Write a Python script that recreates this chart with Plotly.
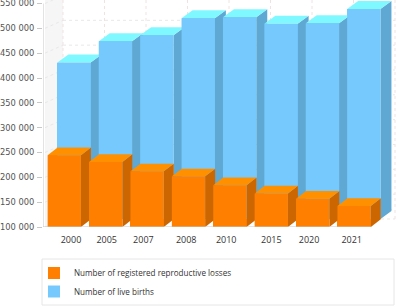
import plotly.graph_objects as go

years = ["2000", "2005", "2007", "2008", "2010", "2015", "2020", "2021"]
losses = [244500, 231000, 212000, 202000, 184000, 167300, 157000, 142300]
births = [415000, 458000, 470000, 504000, 506000, 493000, 494000, 523000]
y_ticks = [100000, 150000, 200000, 250000, 300000, 350000, 400000, 450000, 500000, 550000]
y_labels = ["100 000", "150 000", "200 000", "250 000", "300 000", "350 000", "400 000", "450 000", "500 000", "550 000"]

W, H = 397, 307
STEP = 41.4
PX_Y = 0.496 / 1000
X0 = 64.3
BAR_W = 33.3 / STEP
BASE = 100000
PLOT_L, PLOT_B = 43, 80
x_range = [(PLOT_L - X0) / STEP, (W - X0) / STEP]
y_range = [BASE, BASE + (H - PLOT_B - 0.3) / PX_Y]
px_x = lambda p: p / STEP
px_y = lambda p: p / PX_Y
label_nudge = [6.7, 1, -3.7, -2.3, -3.7, 0, -3.6, -2.4]

ORANGE, ORANGE_SIDE, ORANGE_TOP = "#FF8000", "#CC6600", "#FF9100"
BLUE, BLUE_SIDE, BLUE_TOP = "#76C9FD", "#5FA8D3", "#80F8FF"
GRID = "#E8E8E8"

BACK_X = px_x(9.7)
BACK_Y = px_y(8)
n = len(years)
idx = list(range(n))

fig = go.Figure()
fig.add_bar(x=[i + BACK_X for i in idx], y=[v - BASE for v in births], base=BASE + BACK_Y,
            width=BAR_W, marker=dict(color=BLUE, line_width=0), name="Number of live births",
            legend="legend2", hoverinfo="skip")
fig.add_bar(x=idx, y=[v - BASE for v in losses], base=BASE, width=BAR_W,
            marker=dict(color=ORANGE, line_width=0), name="Number of registered reproductive losses",
            hoverinfo="skip")


def poly(xs, ys, color):
    fig.add_scatter(x=xs + xs[:1], y=ys + ys[:1], mode="lines", fill="toself", fillcolor=color,
                    line=dict(width=0, color=color), showlegend=False, hoverinfo="skip")


def prism(i, value, x_off, y_off, dx, dy, front, side, top):
    l = i - BAR_W / 2 + x_off
    r = i + BAR_W / 2 + x_off
    b = BASE + y_off
    t = value + y_off
    poly([r, r + dx, r + dx, r], [b, b + dy, t + dy, t], side)
    poly([l, r, r + dx, l + dx], [t, t, t + dy, t + dy], top)
    poly([l, r, r, l], [b, b, t, t], front)


for i, v in zip(idx, births):
    prism(i, v, BACK_X, BACK_Y, px_x(11), px_y(8), BLUE, BLUE_SIDE, BLUE_TOP)
for i, v in zip(idx, losses):
    prism(i, v, 0, 0, px_x(10), px_y(7.7), ORANGE, ORANGE_SIDE, ORANGE_TOP)

shapes = []
wall_l = x_range[0] + px_x(2)
wall_r = (63 - X0) / STEP
far_r = (395 - X0) / STEP
wall_dy = px_y(8)
shapes.append(dict(type="path", layer="below", fillcolor="#F6F6F6", line_width=0,
                   path=f"M{wall_l},{BASE} L{wall_r},{BASE + wall_dy} L{wall_r},{y_ticks[-1] + wall_dy} L{wall_l},{y_range[1]} Z"))
for t in y_ticks:
    shapes.append(dict(type="line", layer="below", x0=wall_r, x1=far_r, y0=t + wall_dy, y1=t + wall_dy,
                       line=dict(color=GRID, width=1, dash="dot")))
    shapes.append(dict(type="line", layer="below", x0=wall_l, x1=wall_r, y0=t, y1=t + wall_dy,
                       line=dict(color=GRID, width=1, dash="dot")))
for i in range(n + 1):
    gx = wall_r + i * (far_r - wall_r) / n
    shapes.append(dict(type="line", layer="below", x0=gx, x1=gx, y0=BASE + wall_dy, y1=y_ticks[-1] + wall_dy,
                       line=dict(color="#EFE2E2", width=1, dash="dot")))
# floor edge, axis lines
shapes.append(dict(type="line", layer="below", x0=n - 1 + BAR_W / 2, x1=(392 - X0) / STEP, y0=BASE, y1=BASE + px_y(18),
                   line=dict(color="#EAEAEA", width=1)))
shapes.append(dict(type="line", layer="above", x0=x_range[0], x1=x_range[0], y0=BASE, y1=y_ticks[-1],
                   line=dict(color="#C8C8C8", width=1)))
shapes.append(dict(type="line", layer="above", x0=x_range[0], x1=n - 1 + BAR_W / 2, y0=BASE, y1=BASE,
                   line=dict(color="#C8C8C8", width=1)))

plot_h = H - PLOT_B
plot_w = W - PLOT_L


def lx(p):
    return (p - PLOT_L) / plot_w


def ly(p):
    return (plot_h - p) / plot_h


# legend frame
shapes.append(dict(type="rect", xref="paper", yref="paper", x0=lx(42), x1=lx(394), y0=ly(259), y1=ly(305),
                   line=dict(color="#E6E6E6", width=1), fillcolor="#FFFFFF", layer="below"))

legend_font = dict(family="Open Sans", size=8.1, color="#333333")
fig.update_layout(
    width=W, height=H, margin=dict(l=PLOT_L, r=0, t=0, b=PLOT_B, pad=0, autoexpand=False),
    paper_bgcolor="white", plot_bgcolor="white", barmode="overlay", bargap=0,
    shapes=shapes, showlegend=True,
    xaxis=dict(range=x_range, tickmode="array", tickvals=[i + d / STEP for i, d in zip(idx, label_nudge)],
               ticktext=years, showgrid=False, zeroline=False, showline=False, ticks="", automargin=False,
               tickfont=dict(family="Open Sans", size=9, color="#333333"), ticklabelstandoff=6),
    yaxis=dict(range=y_range, tickmode="array", tickvals=y_ticks, ticktext=y_labels, showgrid=False,
               zeroline=False, showline=False, ticks="outside", ticklen=5, tickcolor="#C8C8C8", tickwidth=1,
               automargin=False, ticklabeloverflow="allow", ticklabelstandoff=1,
               tickfont=dict(family="DejaVu Sans", size=8.3, color="#555555")),
    legend=dict(x=lx(34), y=ly(273), xanchor="left", yanchor="middle", font=legend_font,
                bgcolor="rgba(0,0,0,0)", borderwidth=0),
    legend2=dict(x=lx(34), y=ly(291.5), xanchor="left", yanchor="middle", font=legend_font,
                 bgcolor="rgba(0,0,0,0)", borderwidth=0),
)
fig.write_html("out.html", post_script="document.body.style.margin='0';", config={"displayModeBar": False})
